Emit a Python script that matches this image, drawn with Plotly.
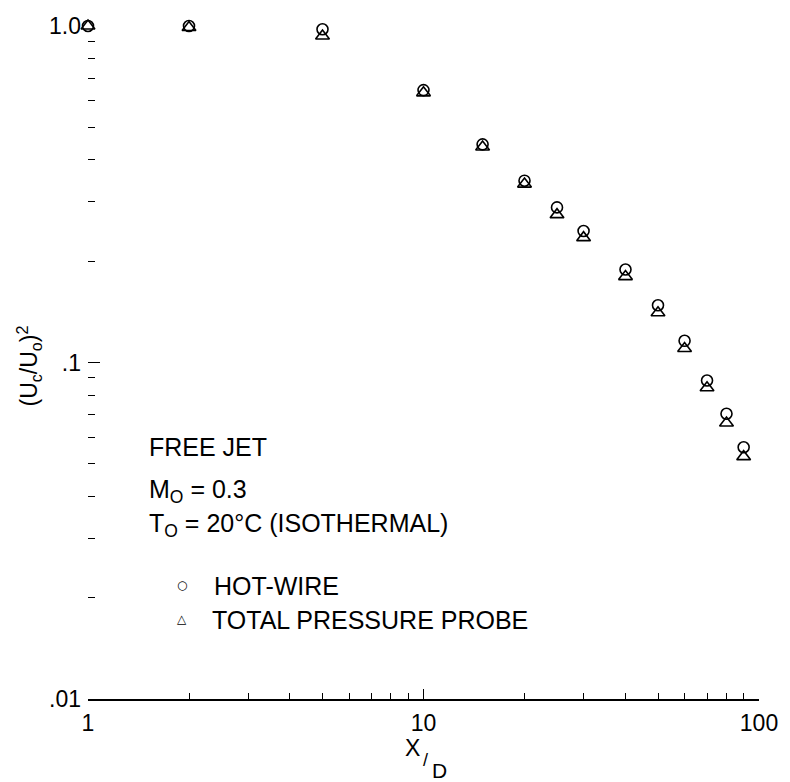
import plotly.graph_objects as go

# ---- data ----
x_d = [1, 2, 5, 10, 15, 20, 25, 30, 40, 50, 60, 70, 80, 90]
hot_wire = [1.0, 1.0, 0.978, 0.645, 0.445, 0.347, 0.289, 0.246, 0.189, 0.148, 0.116, 0.0884, 0.0704, 0.056]
total_pressure = [1.0, 0.99, 0.934, 0.633, 0.437, 0.339, 0.275, 0.235, 0.180, 0.1406, 0.110, 0.0841, 0.0661, 0.0525]

x_major = [1, 10, 100]
x_major_text = ["1", "10", "100"]
x_minor = [2, 3, 4, 5, 6, 7, 8, 9, 20, 30, 40, 50, 60, 70, 80, 90]
y_major = [0.01, 0.1, 1.0]
y_major_text = [".01", ".1", "1.0"]
y_minor = [0.02, 0.03, 0.04, 0.05, 0.06, 0.07, 0.08, 0.09,
           0.2, 0.3, 0.4, 0.5, 0.6, 0.7, 0.8, 0.9]

FONT = "Liberation Sans"
W, H = 790, 782
ML, MR, MT, MB = 88, 25, 26, 83
PW, PH = W - ML - MR, H - MT - MB


def px(xp):
    return (xp - ML) / PW


def py(yp):
    return (H - MB - yp) / PH


def f(size, family=FONT):
    return dict(family=family, size=size, color="black")


fig = go.Figure()
fig.add_trace(go.Scatter(
    x=x_d, y=hot_wire, mode="markers", name="HOT-WIRE", cliponaxis=False,
    marker=dict(symbol="circle-open", size=11, color="black", line=dict(width=1.6, color="black")),
))
fig.add_trace(go.Scatter(
    x=x_d, y=total_pressure, mode="markers", name="TOTAL PRESSURE PROBE", cliponaxis=False,
    marker=dict(symbol="triangle-up-open", size=12, color="black", line=dict(width=1.6, color="black")),
))

fig.update_layout(
    width=W, height=H,
    margin=dict(l=ML, r=MR, t=MT, b=MB),
    paper_bgcolor="white", plot_bgcolor="white",
    showlegend=False,
    font=f(22),
)

fig.update_xaxes(
    type="log", range=[0, 2],
    showgrid=False, zeroline=False,
    showline=True, linecolor="black", linewidth=1.5,
    ticks="inside", ticklen=10, tickwidth=1.2, tickcolor="black",
    tickvals=x_major, ticktext=x_major_text,
    tickfont=f(23),
    ticklabelstandoff=3,
    minor=dict(tickvals=x_minor, ticks="inside", ticklen=6, tickwidth=1, tickcolor="black", showgrid=False),
)
fig.update_yaxes(
    type="log", range=[-2, 0],
    showgrid=False, zeroline=False,
    showline=False,
    ticks="inside", ticklen=12, tickwidth=1.2, tickcolor="black",
    tickvals=y_major, ticktext=y_major_text,
    tickfont=f(23),
    ticklabelstandoff=6,
    minor=dict(tickvals=y_minor, ticks="inside", ticklen=7, tickwidth=1, tickcolor="black", showgrid=False),
)

ann = []
# axis titles
ann.append(dict(x=px(28), y=py(366), xref="paper", yref="paper", textangle=-90,
                text="(U<sub>c</sub>/U<sub>o</sub>)<sup>2</sup>", showarrow=False,
                font=f(23), xanchor="center", yanchor="middle"))
ann.append(dict(x=px(415), y=py(748), xref="paper", yref="paper", text="X", showarrow=False,
                font=f(23), xanchor="center", yanchor="middle"))
ann.append(dict(x=px(429), y=py(760), xref="paper", yref="paper", text="/", showarrow=False,
                font=f(18), xanchor="center", yanchor="middle"))
ann.append(dict(x=px(443), y=py(770), xref="paper", yref="paper", text="D", showarrow=False,
                font=f(21), xanchor="center", yanchor="middle"))

# text block
TS = 25
ann.append(dict(x=px(148), y=py(447), xref="paper", yref="paper", text="FREE JET", showarrow=False,
                font=f(TS), xanchor="left", yanchor="middle"))
ann.append(dict(x=px(148), y=py(491), xref="paper", yref="paper", text="M<sub>O</sub> = 0.3", showarrow=False,
                font=f(TS), xanchor="left", yanchor="middle"))
ann.append(dict(x=px(148), y=py(525), xref="paper", yref="paper",
                text="T<sub>O</sub> = 20°C (ISOTHERMAL)", showarrow=False,
                font=f(TS), xanchor="left", yanchor="middle"))
ann.append(dict(x=px(183), y=py(585), xref="paper", yref="paper", text="○", showarrow=False,
                font=f(12, "DejaVu Sans"), xanchor="center", yanchor="middle"))
ann.append(dict(x=px(213), y=py(586), xref="paper", yref="paper", text="HOT-WIRE", showarrow=False,
                font=f(TS), xanchor="left", yanchor="middle"))
ann.append(dict(x=px(183), y=py(619), xref="paper", yref="paper", text="△", showarrow=False,
                font=f(12, "DejaVu Sans"), xanchor="center", yanchor="middle"))
ann.append(dict(x=px(211), y=py(620), xref="paper", yref="paper", text="TOTAL PRESSURE PROBE", showarrow=False,
                font=f(TS), xanchor="left", yanchor="middle"))

fig.update_layout(annotations=ann)
fig.write_html("out.html", config={"displayModeBar": False},
               post_script="document.body.style.margin='0px';")
